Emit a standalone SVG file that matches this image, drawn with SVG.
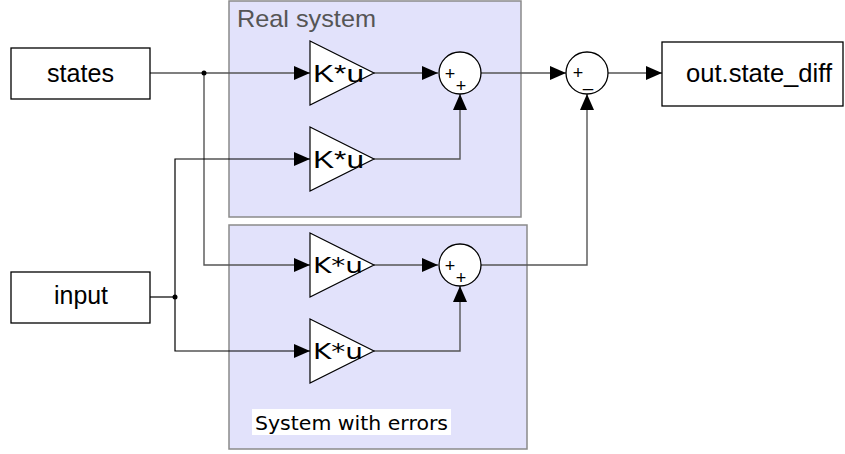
<svg xmlns="http://www.w3.org/2000/svg" width="845" height="454" viewBox="0 0 845 454">
  <defs>
    <marker id="arr" viewBox="0 0 16 14" refX="16" refY="7" markerWidth="16" markerHeight="14" markerUnits="userSpaceOnUse" orient="auto">
      <path d="M0,0 L16,7 L0,14 Z" fill="#000"/>
    </marker>
  </defs>
  <style>
    .sub { fill: #e2e2fb; stroke: #8a8a8a; stroke-width: 1.5; }
    .port { fill: #fff; stroke: #000; stroke-width: 1.3; }
    .gain { fill: #fff; stroke: #000; stroke-width: 1.2; }
    .sum { fill: #fff; stroke: #000; stroke-width: 1.3; }
    .w { fill: none; stroke: #555; stroke-width: 1.4; }
    .wb { fill: none; stroke: #000; stroke-width: 1.2; }
    .lbl { font-family: "Liberation Sans", Arial, sans-serif; fill: #000; }
    .v { font-family: "DejaVu Sans", Verdana, sans-serif; fill: #000; }
    .sign { font-family: "Liberation Sans", Arial, sans-serif; font-size: 18px; fill: #000; text-anchor: middle; }
  </style>

  <!-- subsystems -->
  <g id="real-system">
    <rect class="sub" x="229" y="1" width="292" height="216"/>
    <text x="237" y="27" font-family="Liberation Sans, Arial, sans-serif" font-size="24" fill="#555" textLength="139" lengthAdjust="spacingAndGlyphs">Real system</text>
  </g>
  <g id="system-with-errors">
    <rect class="sub" x="229" y="225" width="298" height="224"/>
    <rect x="252" y="409" width="199" height="26" fill="#fff"/>
    <text class="v" x="255" y="430" font-size="20" textLength="193" lengthAdjust="spacingAndGlyphs">System with errors</text>
  </g>

  <!-- connectors -->
  <g id="connectors">
    <path class="w" d="M150,73 H310" marker-end="url(#arr)"/>
    <path class="w" d="M204,73 V265 H310" marker-end="url(#arr)"/>
    <path class="wb" d="M150,297 H175"/>
    <path class="wb" d="M175,297 V159 H310" marker-end="url(#arr)"/>
    <path class="wb" d="M175,297 V351 H310" marker-end="url(#arr)"/>
    <path class="w" d="M374,73 H438" marker-end="url(#arr)"/>
    <path class="w" d="M374,159 H460 V94" marker-end="url(#arr)"/>
    <path class="w" d="M374,265 H438" marker-end="url(#arr)"/>
    <path class="w" d="M374,351 H460 V286" marker-end="url(#arr)"/>
    <path class="w" d="M481,73 H566" marker-end="url(#arr)"/>
    <path class="w" d="M481,265 H587 V94" marker-end="url(#arr)"/>
    <path class="w" d="M608,73 H662" marker-end="url(#arr)"/>
    <circle cx="204" cy="73" r="2.5" fill="#000"/>
    <circle cx="175" cy="297" r="2.5" fill="#000"/>
  </g>

  <!-- ports -->
  <g id="states">
    <rect class="port" x="11" y="48" width="139" height="51"/>
    <text class="lbl" x="47" y="82" font-size="25" textLength="67" lengthAdjust="spacingAndGlyphs">states</text>
  </g>
  <g id="input">
    <rect class="port" x="11" y="272" width="139" height="51"/>
    <text class="lbl" x="54" y="304" font-size="25" textLength="54" lengthAdjust="spacingAndGlyphs">input</text>
  </g>
  <g id="out-state-diff">
    <rect class="port" x="662" y="42" width="181" height="64"/>
    <text class="lbl" x="686" y="82" font-size="25" textLength="146" lengthAdjust="spacingAndGlyphs">out.state_diff</text>
  </g>

  <!-- gains -->
  <g id="gain-real-states">
    <polygon class="gain" points="310,41 374,73 310,105"/>
    <text class="lbl" x="313" y="82" font-size="24" textLength="51" lengthAdjust="spacingAndGlyphs">K*u</text>
  </g>
  <g id="gain-real-input">
    <polygon class="gain" points="310,127 374,159 310,191"/>
    <text class="lbl" x="313" y="168" font-size="24" textLength="51" lengthAdjust="spacingAndGlyphs">K*u</text>
  </g>
  <g id="gain-err-states">
    <polygon class="gain" points="310,233 374,265 310,297"/>
    <text class="v" x="313" y="273" font-size="21" textLength="50" lengthAdjust="spacingAndGlyphs">K*u</text>
  </g>
  <g id="gain-err-input">
    <polygon class="gain" points="310,319 374,351 310,383"/>
    <text class="v" x="313" y="359" font-size="21" textLength="50" lengthAdjust="spacingAndGlyphs">K*u</text>
  </g>

  <!-- sums -->
  <g id="sum-real">
    <circle class="sum" cx="460" cy="73" r="21"/>
    <text class="sign" x="450" y="80">+</text>
    <text class="sign" x="461" y="92">+</text>
  </g>
  <g id="sum-err">
    <circle class="sum" cx="460" cy="265" r="21"/>
    <text class="sign" x="450" y="272">+</text>
    <text class="sign" x="461" y="284">+</text>
  </g>
  <g id="diff">
    <circle class="sum" cx="587" cy="73" r="21"/>
    <text class="sign" x="578" y="79" font-size="14">+</text>
    <text class="sign" x="588" y="86">_</text>
  </g>
</svg>
